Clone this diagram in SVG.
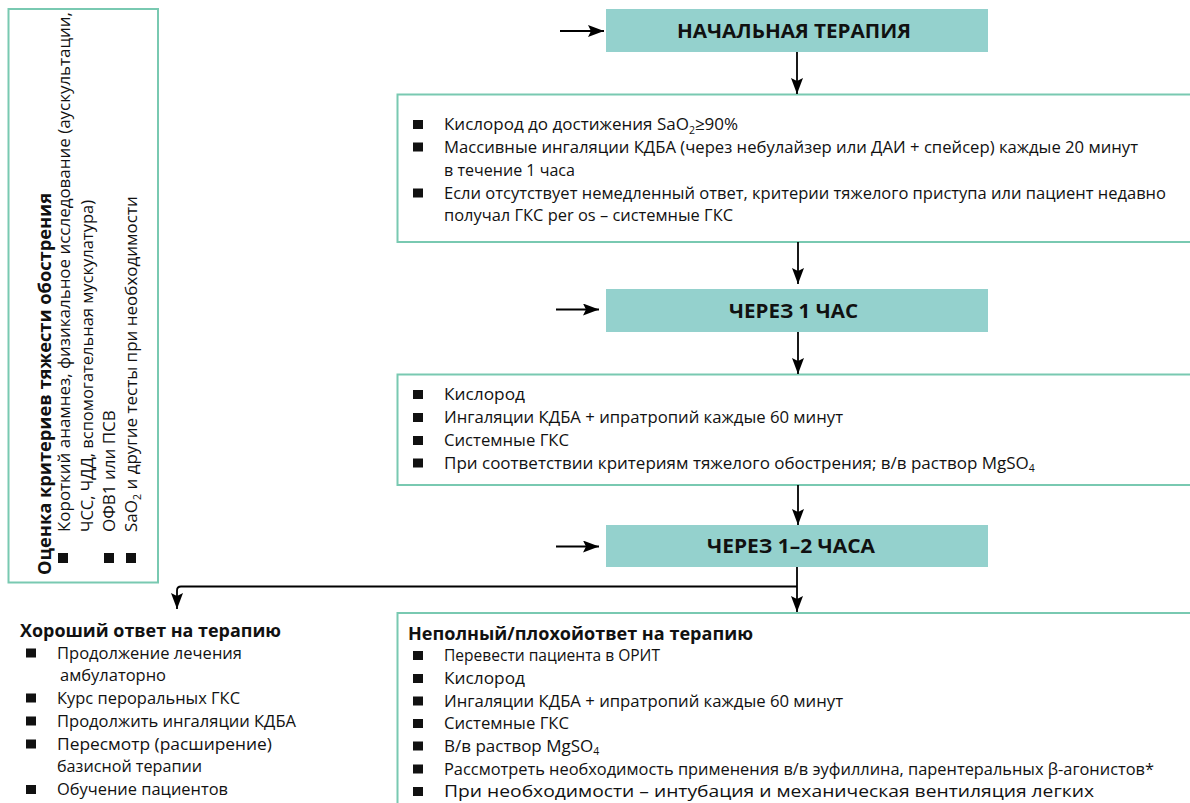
<svg xmlns="http://www.w3.org/2000/svg" width="1190" height="803" viewBox="0 0 1190 803">
<defs>
<style>
.box{fill:#fff;stroke:#79c9b1;stroke-width:2}
.head{fill:#94d1cd}
.ht{font-family:"Open Sans","Liberation Sans",sans-serif;font-weight:bold;font-size:20px;fill:#111}
.t{font-family:"Open Sans","Liberation Sans",sans-serif;font-size:17px;fill:#111}
.b{font-family:"Open Sans","Liberation Sans",sans-serif;font-weight:bold;font-size:18.5px;fill:#111}
.sub{font-size:10.5px}
.bul{fill:#111}
.ln{fill:none;stroke:#000;stroke-width:1.8}
</style>
<marker id="ah" markerUnits="userSpaceOnUse" markerWidth="18" markerHeight="14" refX="16" refY="6" orient="auto">
<path d="M0,0 L16,6 L0,12 L3,6 z" fill="#000"/>
</marker>
</defs>

<g id="assessment">
<rect class="box" x="8.5" y="9" width="149.5" height="573.5"/>
<rect class="bul" x="58" y="553" width="10" height="10"/>
<rect class="bul" x="104" y="553" width="10" height="10"/>
<rect class="bul" x="126" y="553" width="10" height="10"/>
<g transform="rotate(-90)">
<text class="b" x="-575" y="51" textLength="382" lengthAdjust="spacingAndGlyphs">Оценка критериев тяжести обострения</text>
<text class="t" x="-532" y="70" textLength="520" lengthAdjust="spacingAndGlyphs">Короткий анамнез, физикальное исследование (аускультации,</text>
<text class="t" x="-532" y="92.5" textLength="332" lengthAdjust="spacingAndGlyphs">ЧСС, ЧДД, вспомогательная мускулатура)</text>
<text class="t" x="-532" y="114.5">ОФВ1 или ПСВ</text>
<text class="t" x="-532" y="137">SaO<tspan class="sub" dy="3.5">2</tspan><tspan dy="-3.5"> и другие тесты при необходимости</tspan></text>
</g>
</g>

<g id="initial-therapy">
<rect class="head" x="606" y="9" width="382" height="43"/>
<text class="ht" x="677" y="37.5" textLength="234" lengthAdjust="spacingAndGlyphs">НАЧАЛЬНАЯ ТЕРАПИЯ</text>
</g>

<g id="initial-actions">
<rect class="box" x="397.5" y="94.5" width="820" height="147.5"/>
<rect class="bul" x="413" y="120" width="10" height="9"/>
<rect class="bul" x="413" y="142.5" width="10" height="9"/>
<rect class="bul" x="413" y="188.5" width="10" height="9"/>
<text class="t" x="444" y="130">Кислород до достижения SaO<tspan class="sub" dy="3.5">2</tspan><tspan dy="-3.5">≥90%</tspan></text>
<text class="t" x="444" y="152.5" textLength="694" lengthAdjust="spacingAndGlyphs">Массивные ингаляции КДБА (через небулайзер или ДАИ + спейсер) каждые 20 минут</text>
<text class="t" x="444" y="175.5" textLength="131" lengthAdjust="spacingAndGlyphs">в течение 1 часа</text>
<text class="t" x="444" y="198.5" textLength="722" lengthAdjust="spacingAndGlyphs">Если отсутствует немедленный ответ, критерии тяжелого приступа или пациент недавно</text>
<text class="t" x="444" y="221" textLength="289" lengthAdjust="spacingAndGlyphs">получал ГКС per os – системные ГКС</text>
</g>

<g id="after-1h">
<rect class="head" x="606" y="289" width="382" height="43"/>
<text class="ht" x="729" y="317.5" textLength="129" lengthAdjust="spacingAndGlyphs">ЧЕРЕЗ 1 ЧАС</text>
</g>

<g id="after-1h-actions">
<rect class="box" x="397.5" y="374.5" width="820" height="110.5"/>
<rect class="bul" x="413" y="390" width="10" height="9"/>
<rect class="bul" x="413" y="413" width="10" height="9"/>
<rect class="bul" x="413" y="436" width="10" height="9"/>
<rect class="bul" x="413" y="458.5" width="10" height="9"/>
<text class="t" x="444" y="400" textLength="81" lengthAdjust="spacingAndGlyphs">Кислород</text>
<text class="t" x="444" y="423" textLength="399" lengthAdjust="spacingAndGlyphs">Ингаляции КДБА + ипратропий каждые 60 минут</text>
<text class="t" x="444" y="446" textLength="125" lengthAdjust="spacingAndGlyphs">Системные ГКС</text>
<text class="t" x="444" y="468.5">При соответствии критериям тяжелого обострения; в/в раствор MgSO<tspan class="sub" dy="3.5">4</tspan></text>
</g>

<g id="after-1-2h">
<rect class="head" x="606" y="525" width="382" height="42"/>
<text class="ht" x="707" y="552.5" textLength="168" lengthAdjust="spacingAndGlyphs">ЧЕРЕЗ 1–2 ЧАСА</text>
</g>

<g id="good-response">
<text class="b" x="20" y="637" textLength="261" lengthAdjust="spacingAndGlyphs">Хороший ответ на терапию</text>
<rect class="bul" x="26" y="648.5" width="10" height="9"/>
<rect class="bul" x="26" y="693.5" width="10" height="9"/>
<rect class="bul" x="26" y="716.5" width="10" height="9"/>
<rect class="bul" x="26" y="739.5" width="10" height="9"/>
<rect class="bul" x="26" y="785" width="10" height="9"/>
<text class="t" x="57" y="658.5" textLength="185" lengthAdjust="spacingAndGlyphs">Продолжение лечения</text>
<text class="t" x="60" y="681" textLength="106" lengthAdjust="spacingAndGlyphs">амбулаторно</text>
<text class="t" x="57" y="703.5" textLength="183" lengthAdjust="spacingAndGlyphs">Курс пероральных ГКС</text>
<text class="t" x="57" y="726.5" textLength="239" lengthAdjust="spacingAndGlyphs">Продолжить ингаляции КДБА</text>
<text class="t" x="57" y="749.5" textLength="215" lengthAdjust="spacingAndGlyphs">Пересмотр (расширение)</text>
<text class="t" x="57" y="772" textLength="145" lengthAdjust="spacingAndGlyphs">базисной терапии</text>
<text class="t" x="57" y="795" textLength="171" lengthAdjust="spacingAndGlyphs">Обучение пациентов</text>
</g>

<g id="poor-response">
<rect class="box" x="397.5" y="613" width="820" height="220"/>
<text class="b" x="408" y="640" textLength="345" lengthAdjust="spacingAndGlyphs">Неполный/плохойответ на терапию</text>
<rect class="bul" x="413" y="651" width="10" height="9"/>
<rect class="bul" x="413" y="674" width="10" height="9"/>
<rect class="bul" x="413" y="696.5" width="10" height="9"/>
<rect class="bul" x="413" y="719" width="10" height="9"/>
<rect class="bul" x="413" y="741.5" width="10" height="9"/>
<rect class="bul" x="413" y="764.5" width="10" height="9"/>
<rect class="bul" x="413" y="787" width="10" height="9"/>
<text class="t" x="444" y="661" textLength="216" lengthAdjust="spacingAndGlyphs">Перевести пациента в ОРИТ</text>
<text class="t" x="444" y="684" textLength="81" lengthAdjust="spacingAndGlyphs">Кислород</text>
<text class="t" x="444" y="706.5" textLength="399" lengthAdjust="spacingAndGlyphs">Ингаляции КДБА + ипратропий каждые 60 минут</text>
<text class="t" x="444" y="729" textLength="125" lengthAdjust="spacingAndGlyphs">Системные ГКС</text>
<text class="t" x="444" y="751.5">В/в раствор MgSO<tspan class="sub" dy="3.5">4</tspan></text>
<text class="t" x="444" y="774.5" textLength="710" lengthAdjust="spacingAndGlyphs">Рассмотреть необходимость применения в/в эуфиллина, парентеральных β-агонистов*</text>
<text class="t" x="444" y="797" textLength="650" lengthAdjust="spacingAndGlyphs">При необходимости – интубация и механическая вентиляция легких</text>
</g>

<g id="connectors">
<line class="ln" x1="560" y1="31" x2="604" y2="31" marker-end="url(#ah)"/>
<line class="ln" x1="797" y1="52" x2="797" y2="94" marker-end="url(#ah)"/>
<line class="ln" x1="798" y1="242" x2="798" y2="284" marker-end="url(#ah)"/>
<line class="ln" x1="556" y1="309.5" x2="599" y2="309.5" marker-end="url(#ah)"/>
<line class="ln" x1="798" y1="332" x2="798" y2="374" marker-end="url(#ah)"/>
<line class="ln" x1="798" y1="485" x2="798" y2="525" marker-end="url(#ah)"/>
<line class="ln" x1="556" y1="546.5" x2="599" y2="546.5" marker-end="url(#ah)"/>
<line class="ln" x1="797" y1="567" x2="797" y2="612" marker-end="url(#ah)"/>
<path class="ln" d="M797,586.5 H181 Q177,586.5 177,590.5 V609" marker-end="url(#ah)"/>
</g>
</svg>
